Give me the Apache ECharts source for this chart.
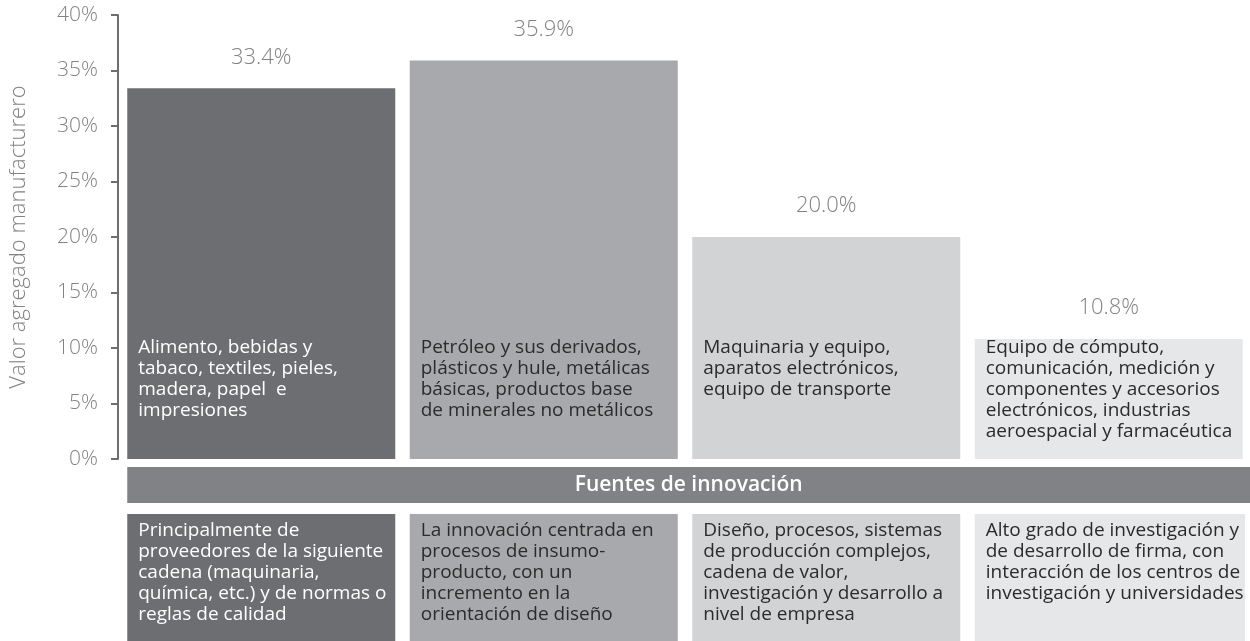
<!DOCTYPE html>
<html lang="es">
<head>
<meta charset="UTF-8">
<title>Valor agregado manufacturero</title>
<style>
    html,body{margin:0;padding:0;background:#fff;}
    #barChart{width:1250px;height:641px;}
</style>
</head>
<body>
<div id="barChart"></div>
<script src="https://cdn.jsdelivr.net/npm/echarts@6/dist/echarts.min.js"></script>
<script>
    // datos
    const categorias = [
        'Alimento, bebidas y\ntabaco, textiles, pieles,\nmadera, papel  e\nimpresiones',
        'Petróleo y sus derivados,\nplásticos y hule, metálicas\nbásicas, productos base\nde minerales no metálicos',
        'Maquinaria y equipo,\naparatos electrónicos,\nequipo de transporte',
        'Equipo de cómputo,\ncomunicación, medición y\ncomponentes y accesorios\nelectrónicos, industrias\naeroespacial y farmacéutica'
    ];
    const valores = [33.4, 35.9, 20.0, 10.8];
    const fuentes = [
        'Principalmente de\nproveedores de la siguiente\ncadena (maquinaria,\nquímica, etc.) y de normas o\nreglas de calidad',
        'La innovación centrada en\nprocesos de insumo-\nproducto, con un\nincremento en la\norientación de diseño',
        'Diseño, procesos, sistemas\nde producción complejos,\ncadena de valor,\ninvestigación y desarrollo a\nnivel de empresa',
        'Alto grado de investigación y\nde desarrollo de firma, con\ninteracción de los centros de\ninvestigación y universidades'
    ];
    const tituloFuentes = 'Fuentes de innovación';
    const nombreEje = 'Valor agregado manufacturero';

    const colores = ['#6d6e71', '#a7a9ac', '#d1d3d4', '#e6e7e8'];
    const textoColores = ['#ffffff', '#2b2b2b', '#2b2b2b', '#2b2b2b'];
    const fuente = '"Open Sans", "Noto Sans", sans-serif';
    const barAncho = 268;
    const textoArriba = 11; // nivel (%) donde empieza el texto dentro de la barra

    let myChart = echarts.init(document.getElementById('barChart'));
    let option = {
        animation: false,
        grid: {
            left: 120,
            right: 0,
            top: 15,
            bottom: 182
        },
        xAxis: {
            type: 'category',
            data: categorias.map((c, i) => i),
            axisLine: {show: false},
            axisTick: {show: false},
            axisLabel: {show: false}
        },
        yAxis: {
            type: 'value',
            min: 0,
            max: 40,
            interval: 5,
            offset: 2,
            name: nombreEje,
            nameLocation: 'middle',
            nameGap: 88,
            nameTextStyle: {
                color: '#808285',
                fontSize: 22,
                fontWeight: 300,
                fontFamily: fuente
            },
            axisLine: {
                show: true,
                lineStyle: {color: '#6d6e71', width: 2}
            },
            axisTick: {
                show: true,
                length: 7,
                lineStyle: {color: '#6d6e71', width: 2}
            },
            axisLabel: {
                color: '#808285',
                fontSize: 21,
                fontWeight: 300,
                fontFamily: fuente,
                margin: 20,
                formatter: '{value}%'
            },
            splitLine: {show: false}
        },
        series: [{
            type: 'bar',
            barWidth: barAncho,
            data: valores.map((v, i) => ({value: v, itemStyle: {color: colores[i]}})),
            label: {
                show: true,
                position: 'top',
                distance: 20,
                color: '#808285',
                fontSize: 22,
                fontWeight: 300,
                fontFamily: fuente,
                formatter: p => p.value.toFixed(1) + '%'
            }
        }, {
            type: 'custom',
            silent: true,
            z: 5,
            encode: {x: 0, y: 1},
            data: categorias.map((c, i) => [i, textoArriba]),
            renderItem: function (params, api) {
                let p = api.coord([api.value(0), api.value(1)]);
                return {
                    type: 'text',
                    x: p[0] - barAncho / 2 + 11,
                    y: p[1],
                    style: {
                        text: categorias[params.dataIndex],
                        fill: textoColores[params.dataIndex],
                        fontSize: 19,
                        fontFamily: fuente,
                        lineHeight: 21,
                        align: 'left',
                        verticalAlign: 'top'
                    }
                };
            }
        }]
    };
    myChart.setOption(option);

    // banda y cajas de fuentes de innovación, alineadas con las barras
    let centros = valores.map((v, i) => myChart.convertToPixel({xAxisIndex: 0}, i));
    let izq = centros[0] - barAncho / 2;
    let der = 1250;
    let graficos = [{
        type: 'rect',
        shape: {x: izq, y: 467, width: der - izq, height: 36},
        style: {fill: '#808285'}
    }, {
        type: 'text',
        x: (izq + der) / 2,
        y: 485,
        style: {
            text: tituloFuentes,
            fill: '#ffffff',
            fontSize: 21,
            fontWeight: 600,
            fontFamily: fuente,
            align: 'center',
            verticalAlign: 'middle'
        }
    }];
    fuentes.forEach((t, i) => {
        let x0 = centros[i] - barAncho / 2;
        let ancho = i === fuentes.length - 1 ? der - x0 - 5 : barAncho;
        graficos.push({
            type: 'rect',
            shape: {x: x0, y: 514, width: ancho, height: 130},
            style: {fill: colores[i]}
        });
        graficos.push({
            type: 'text',
            x: x0 + 11,
            y: 520,
            style: {
                text: t,
                fill: textoColores[i],
                fontSize: 19,
                fontFamily: fuente,
                lineHeight: 21,
                align: 'left',
                verticalAlign: 'top'
            }
        });
    });
    myChart.setOption({graphic: graficos});
</script>
</body>
</html>
